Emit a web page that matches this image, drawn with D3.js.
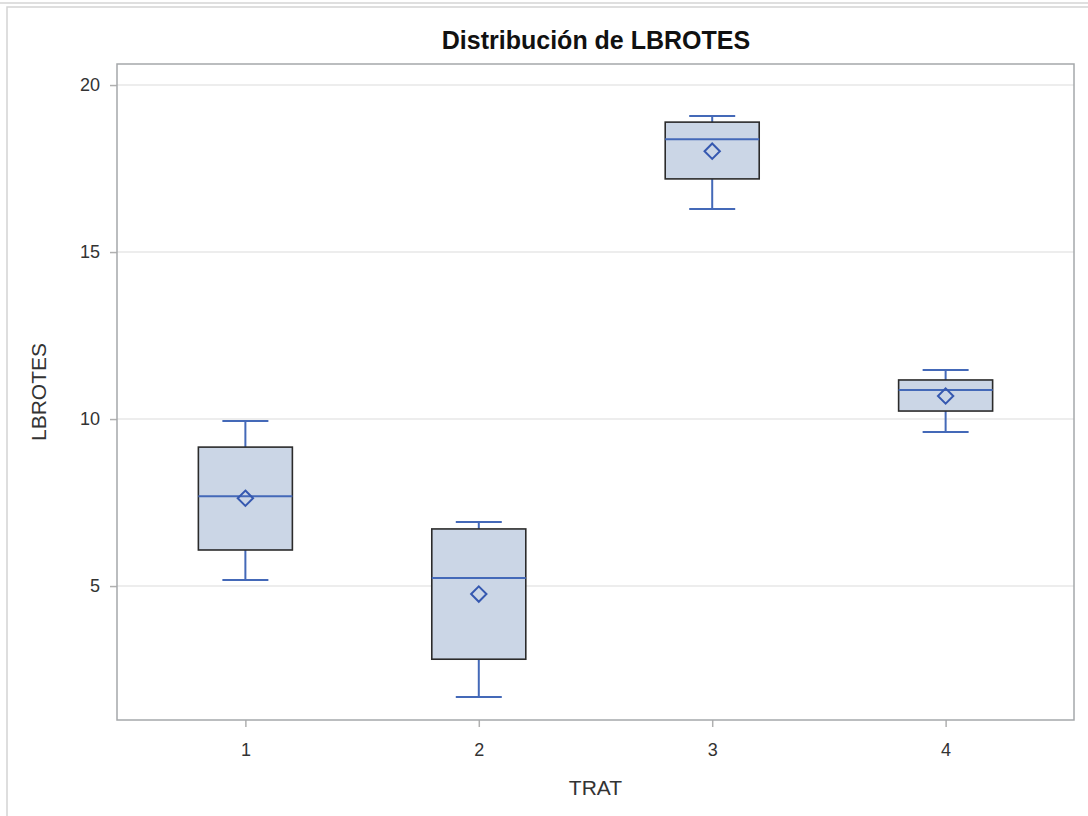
<!DOCTYPE html>
<html>
<head>
<meta charset="utf-8">
<script src="https://cdn.jsdelivr.net/npm/d3@7"></script>
<style>
  html, body { margin: 0; padding: 0; background: #fff; }
  svg { display: block; }
</style>
</head>
<body>
<script>
// LBROTES by treatment: five-number summaries plus mean
const categories = ["1", "2", "3", "4"];
const whiskerLow  = [5.18, 1.68, 16.29, 9.61];
const q1Values    = [6.08, 2.81, 17.19, 10.24];
const medians     = [7.69, 5.24, 18.38, 10.87];
const q3Values    = [9.16, 6.71, 18.89, 11.17];
const whiskerHigh = [9.94, 6.92, 19.07, 11.47];
const means       = [7.63, 4.76, 18.02, 10.69];
const yTicks = [5, 10, 15, 20];

const W = 1088, H = 816;
const plot = { left: 117, right: 1074, top: 64, bottom: 720 };
const font = "Liberation Sans, Arial, sans-serif";

const svg = d3.select("body").append("svg").attr("width", W).attr("height", H);

// page frame
svg.append("line").attr("x1", 0).attr("x2", W).attr("y1", 3).attr("y2", 3)
  .attr("stroke", "#d4d4d4").attr("stroke-width", 1.5);
svg.append("rect").attr("x", 7).attr("y", 7).attr("width", W).attr("height", H)
  .attr("fill", "none").attr("stroke", "#d4d4d4").attr("stroke-width", 1.5);

const x = d3.scalePoint().domain(categories).range([plot.left, plot.right]).padding(0.55);
const y = d3.scaleLinear().domain([0.99, 20.63]).range([plot.bottom, plot.top]);

// gridlines
svg.append("g").selectAll("line").data(yTicks).join("line")
  .attr("x1", plot.left).attr("x2", plot.right)
  .attr("y1", d => y(d)).attr("y2", d => y(d))
  .attr("stroke", "#ededed").attr("stroke-width", 2);

// axes
const yAxis = svg.append("g").attr("transform", `translate(${plot.left},0)`)
  .call(d3.axisLeft(y).tickValues(yTicks).tickSize(7).tickPadding(10));
const xAxis = svg.append("g").attr("transform", `translate(0,${plot.bottom})`)
  .call(d3.axisBottom(x).tickSize(7).tickPadding(16));
[yAxis, xAxis].forEach(g => {
  g.select(".domain").remove();
  g.selectAll(".tick line").attr("stroke", "#b0b0b0").attr("stroke-width", 1.5);
  g.selectAll(".tick text").attr("fill", "#333").attr("font-family", font).attr("font-size", 18);
});

// plot frame
svg.append("rect").attr("x", plot.left).attr("y", plot.top)
  .attr("width", plot.right - plot.left).attr("height", plot.bottom - plot.top)
  .attr("fill", "none").attr("stroke", "#a5a8ab").attr("stroke-width", 1.5);

const data = categories.map((c, i) => ({
  c, lo: whiskerLow[i], q1: q1Values[i], med: medians[i], q3: q3Values[i], hi: whiskerHigh[i], mean: means[i]
}));

const boxW = 94, capW = 46;
const blue = "#4469b8";
const g = svg.append("g").selectAll("g").data(data).join("g")
  .attr("transform", d => `translate(${x(d.c)},0)`);

// whiskers
g.append("line").attr("x1", 0).attr("x2", 0).attr("y1", d => y(d.q3)).attr("y2", d => y(d.hi))
  .attr("stroke", blue).attr("stroke-width", 2);
g.append("line").attr("x1", 0).attr("x2", 0).attr("y1", d => y(d.q1)).attr("y2", d => y(d.lo))
  .attr("stroke", blue).attr("stroke-width", 2);
g.append("line").attr("x1", -capW / 2).attr("x2", capW / 2).attr("y1", d => y(d.hi)).attr("y2", d => y(d.hi))
  .attr("stroke", blue).attr("stroke-width", 2);
g.append("line").attr("x1", -capW / 2).attr("x2", capW / 2).attr("y1", d => y(d.lo)).attr("y2", d => y(d.lo))
  .attr("stroke", blue).attr("stroke-width", 2);

// boxes
g.append("rect").attr("x", -boxW / 2).attr("width", boxW)
  .attr("y", d => y(d.q3)).attr("height", d => y(d.q1) - y(d.q3))
  .attr("fill", "#cbd6e6").attr("stroke", "#2b2b2b").attr("stroke-width", 1.6);

// medians
g.append("line").attr("x1", -boxW / 2).attr("x2", boxW / 2).attr("y1", d => y(d.med)).attr("y2", d => y(d.med))
  .attr("stroke", blue).attr("stroke-width", 2);

// means
g.append("path")
  .attr("d", d3.symbol().type(d3.symbolDiamond2).size(150))
  .attr("transform", d => `translate(0,${y(d.mean)})`)
  .attr("fill", "none").attr("stroke", "#3558b0").attr("stroke-width", 2);

// title & axis labels
svg.append("text").attr("x", 596).attr("y", 49)
  .attr("text-anchor", "middle").attr("font-family", font).attr("font-weight", "bold")
  .attr("font-size", 25).attr("fill", "#111").text("Distribución de LBROTES");
svg.append("text").attr("x", (plot.left + plot.right) / 2).attr("y", 795)
  .attr("text-anchor", "middle").attr("font-family", font).attr("font-size", 21)
  .attr("fill", "#333").text("TRAT");
svg.append("text").attr("transform", `translate(46,${(plot.top + plot.bottom) / 2}) rotate(-90)`)
  .attr("text-anchor", "middle").attr("font-family", font).attr("font-size", 21)
  .attr("fill", "#333").text("LBROTES");
</script>
</body>
</html>
